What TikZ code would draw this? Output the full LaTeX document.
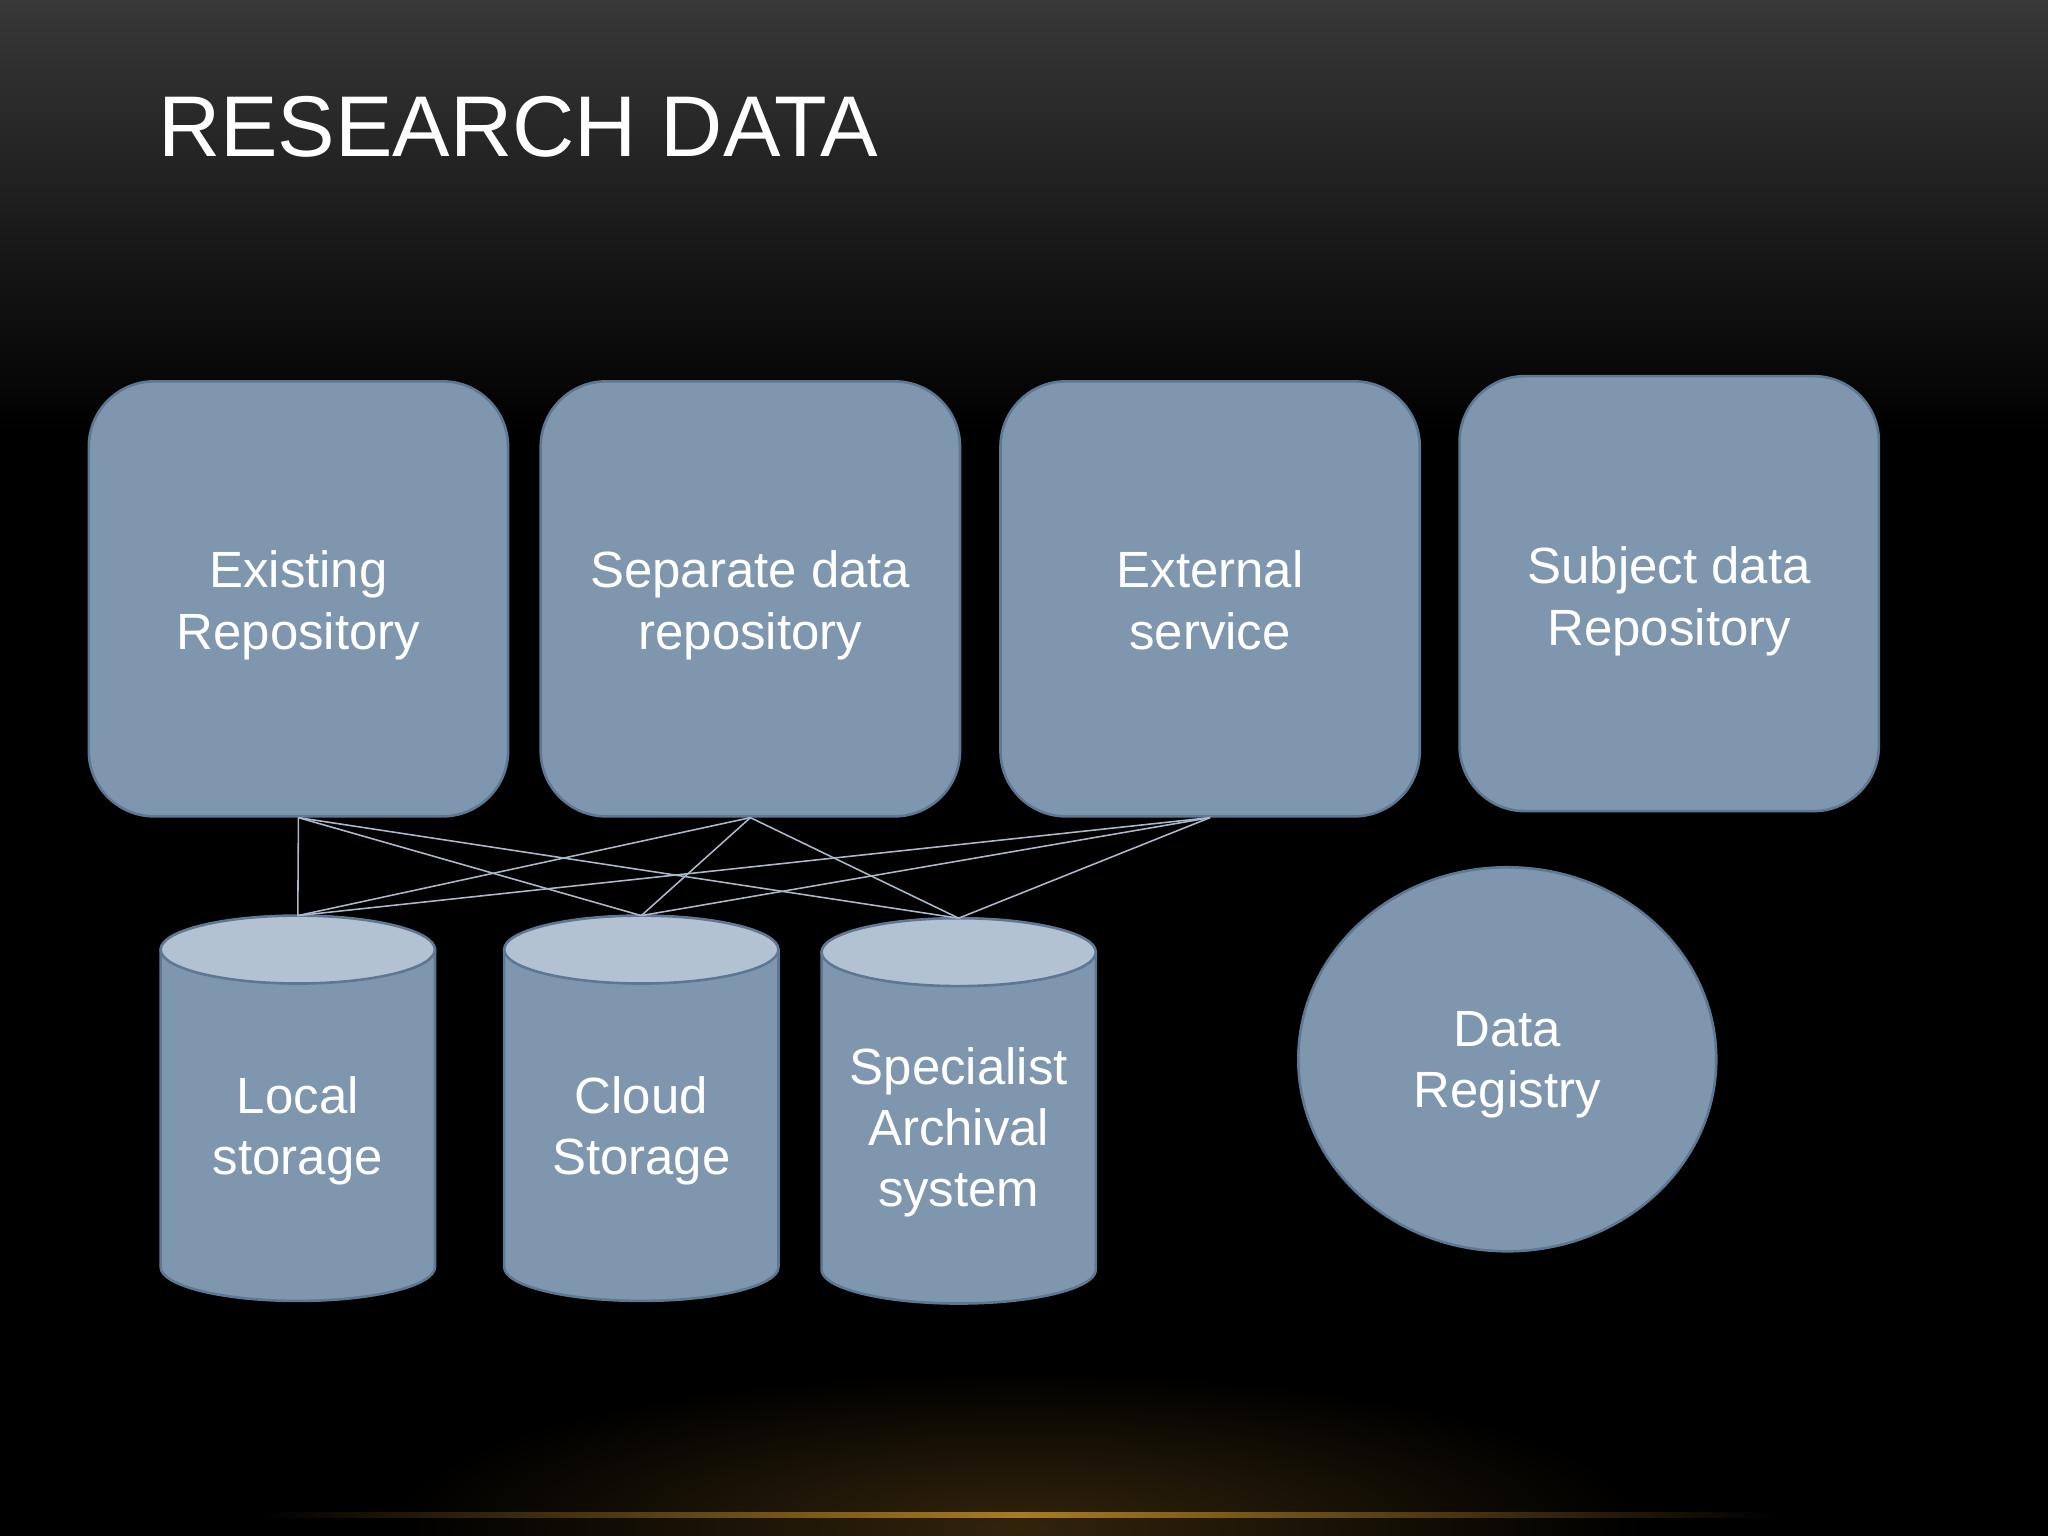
\documentclass[tikz,border=0pt]{standalone}
\usepackage{fontspec}
\setmainfont{Liberation Sans}
\usetikzlibrary{shapes.geometric}
\definecolor{boxf}{HTML}{7F97AE}
\definecolor{boxd}{HTML}{5E7893}
\definecolor{topf}{HTML}{B2C2D2}
\definecolor{glow}{HTML}{C8902E}
\tikzset{
  rbox/.style={draw=boxd,line width=1pt,fill=boxf,rounded corners=25pt,minimum width=160.5pt,minimum height=166.5pt,inner sep=0pt},
  lbl/.style={text=white,font=\fontsize{19.5}{23.5}\selectfont,align=center},
  conn/.style={draw=topf!80!boxf,line width=0.6pt},
  cyl/.style={draw=boxd,line width=1pt,fill=boxf}
}
\begin{document}
\begin{tikzpicture}[x=0.5pt,y=-0.5pt]
\useasboundingbox (0,0) rectangle (1568,1176);
\fill[black] (0,0) rectangle (1568,1176);
\shade[top color=black!78,bottom color=black] (0,0) rectangle (1568,330);
\begin{scope}
\clip (0,950) rectangle (1568,1176);
\shade[inner color=glow!25!black,outer color=black] (780,1170) ellipse [x radius=480,y radius=120];
\end{scope}
\shade[left color=black,right color=black,middle color=glow!85!black] (200,1158) rectangle (1360,1162);
\node[anchor=west,text=white,font=\fontsize{33}{36}\selectfont] (title) at (114,97) {RESEARCH DATA};
% boxes
\node[rbox] (ex) at (228.5,458.5) {};
\node[lbl] at ([yshift=-2.5pt]ex) {Existing\\Repository};
\node[rbox] (sep) at (574.5,458.5) {};
\node[lbl] at ([yshift=-2.5pt]sep) {Separate data\\repository};
\node[rbox] (ext) at (926.5,458.5) {};
\node[lbl] at ([yshift=-0.5pt]ext) {External\\service};
\node[rbox] (sub) at (1278,454.5) {};
\node[lbl] at ([yshift=-3pt]sub) {Subject data\\Repository};
% data registry
\node[draw=boxd,line width=1pt,fill=boxf,ellipse,minimum width=160pt,minimum height=147pt,inner sep=0pt] (reg) at (1154,811) {};
\node[lbl] at ([yshift=-2pt]reg) {Data\\Registry};
% cylinders
\foreach \cx/\nm/\ty in {228/loc/727,491/cld/727,734/spc/729}{
  \path[cyl] (\cx-105,\ty) -- (\cx-105,\ty+243) arc[start angle=180,end angle=0,x radius=105,y radius=26] -- (\cx+105,\ty) -- cycle;
  \path[cyl,fill=topf] (\cx,\ty) ellipse[x radius=105,y radius=26];
  \coordinate (\nm) at (\cx,\ty-26);
}
\node[lbl] at (228,866) {Local\\storage};
\node[lbl] at (491,866) {Cloud\\Storage};
\node[lbl] at (734,867) {Specialist\\Archival\\system};
% connectors
\foreach \a in {ex,sep,ext}{
  \foreach \b in {loc,cld,spc}{
    \draw[conn] (\a.south) -- (\b);
  }
}
\end{tikzpicture}
\end{document}
